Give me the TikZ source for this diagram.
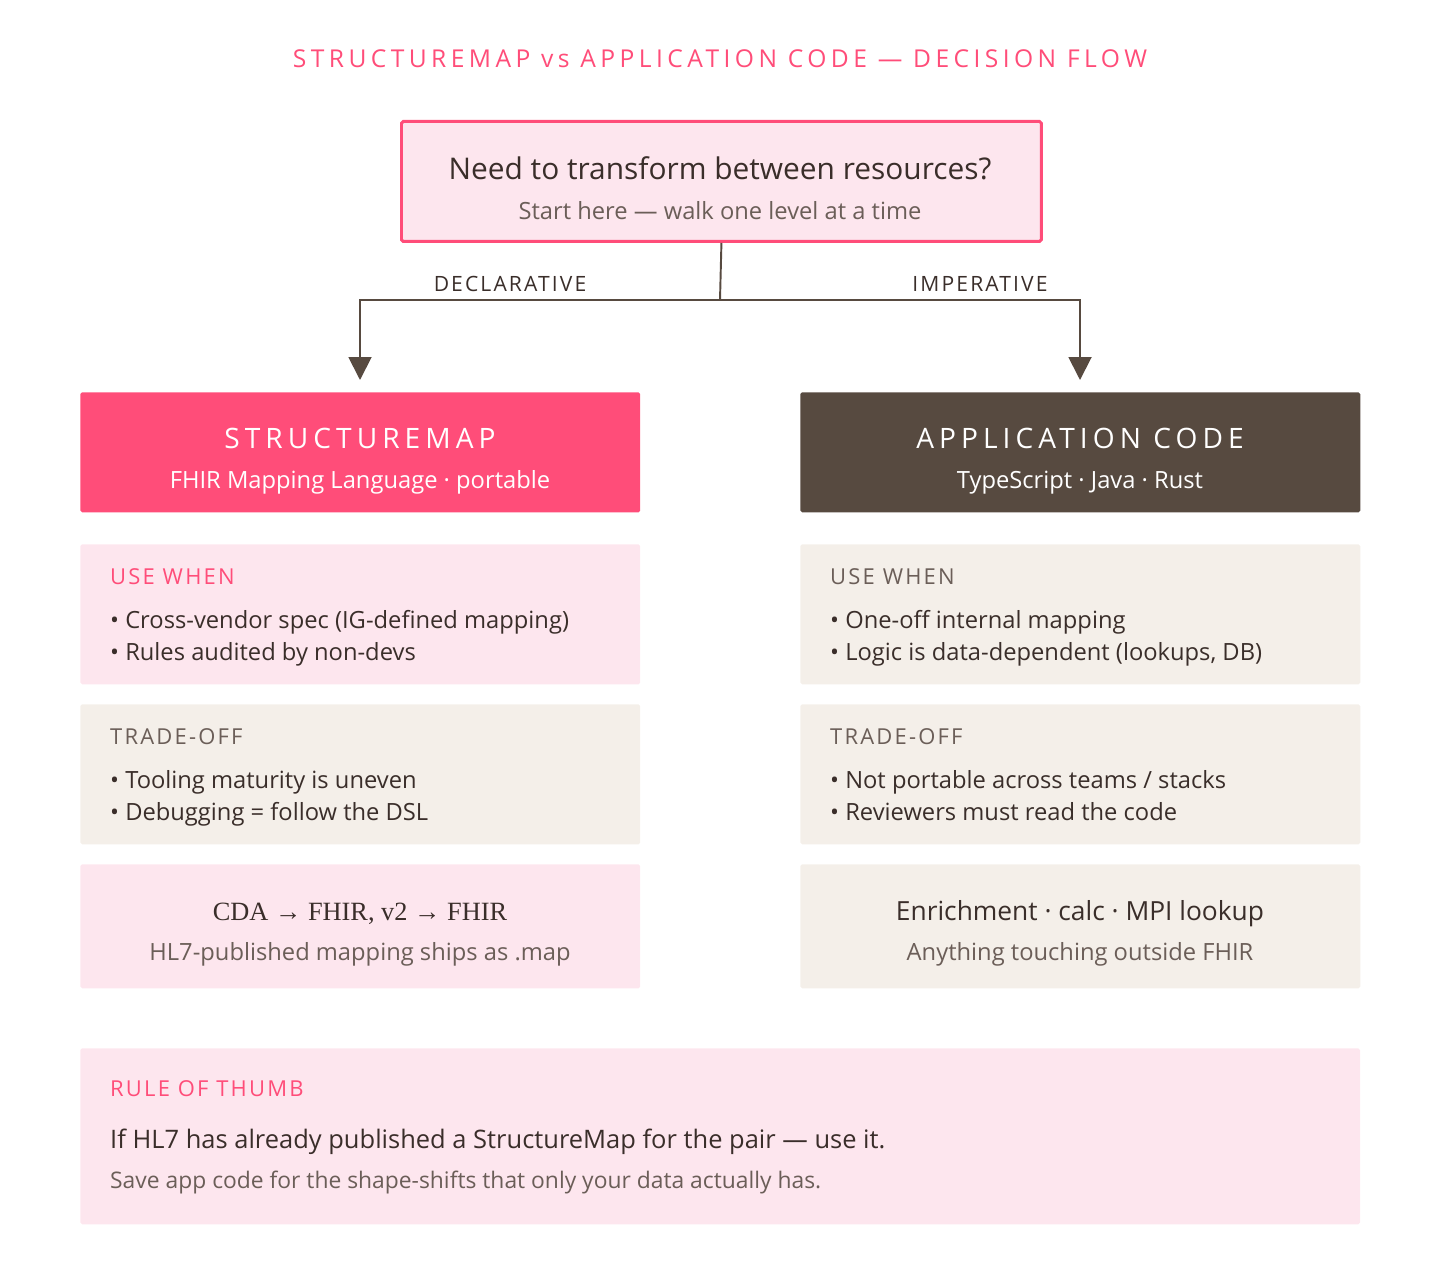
\documentclass[tikz,border=0pt]{standalone}
\usepackage{fontspec}
\setmainfont{Open Sans}
\newfontfamily\spaced{Open Sans}[LetterSpace=18]
\newfontfamily\spacedsm{Open Sans}[LetterSpace=10]
\newfontfamily\serifcda{Liberation Serif}
\usetikzlibrary{arrows.meta,positioning}

\definecolor{hot}{HTML}{FF4D79}
\definecolor{bark}{HTML}{574A40}
\definecolor{blush}{HTML}{FDE6EE}
\definecolor{sand}{HTML}{F4EFE9}
\definecolor{ink}{HTML}{3A2E2A}
\definecolor{mute}{HTML}{6B5E58}

\tikzset{
  card/.style={anchor=north west, inner sep=0pt, minimum width=11.2cm, rounded corners=1pt},
  head/.style={anchor=base, font=\spaced\fontsize{16}{18}\selectfont, text=white},
  tag/.style={anchor=base west, font=\spacedsm\fontsize{12.5}{14}\selectfont},
  item/.style={anchor=base west, font=\fontsize{13.5}{16}\selectfont, text=ink},
  flow/.style={draw=bark, line width=1.1pt}
}

\begin{document}
\begin{tikzpicture}[x=0.02cm,y=-0.02cm]
  \useasboundingbox (0,0) rectangle (1440,1280);

  \node[anchor=base, text=hot, font=\spaced\fontsize{14}{16}\selectfont] (title) at (720,68)
        {STRUCTUREMAP vs APPLICATION CODE — DECISION FLOW};

  % question
  \node[card, minimum width=12.8cm, minimum height=2.4cm, fill=blush, draw=hot, line width=1.7pt] (ask) at (400,120) {};
  \node[anchor=base, text=ink, font=\fontsize{17}{20}\selectfont] (askq) at (720,180) {Need to transform between resources?};
  \node[anchor=base, text=mute, font=\fontsize{13.5}{16}\selectfont] (asks) at (720,220) {Start here — walk one level at a time};

  % branches
  \coordinate (fork) at (720,300);
  \coordinate (lturn) at (360,300);
  \coordinate (rturn) at (1080,300);
  \coordinate (lend) at (360,380);
  \coordinate (rend) at (1080,380);
  \draw[flow] (ask.south) -- (fork);
  \draw[flow, -{Triangle[length=0.46cm,width=0.46cm]}] (fork) -- (lturn) -- (lend);
  \draw[flow, -{Triangle[length=0.46cm,width=0.46cm]}] (fork) -- (rturn) -- (rend);
  \node[anchor=base, text=ink, font=\spacedsm\fontsize{12}{14}\selectfont] (decl) at (510,292) {DECLARATIVE};
  \node[anchor=base, text=ink, font=\spacedsm\fontsize{12}{14}\selectfont] (imp) at (980,292) {IMPERATIVE};

  % left column
  \node[card, minimum height=2.4cm, fill=hot] (sm) at (80,392) {};
  \node[head] (smt) at (360,448) {STRUCTUREMAP};
  \node[anchor=base, text=white, font=\fontsize{13.5}{16}\selectfont] (sms) at (360,488) {FHIR Mapping Language · portable};

  \node[card, minimum height=2.8cm, fill=blush] (smuse) at (80,544) {};
  \node[tag, text=hot] (smuset) at (104,584) {USE WHEN};
  \node[item] (smu1) at (104,628) {• Cross-vendor spec (IG-defined mapping)};
  \node[item] (smu2) at (104,660) {• Rules audited by non-devs};

  \node[card, minimum height=2.8cm, fill=sand] (smtrade) at (80,704) {};
  \node[tag, text=mute] (smtradet) at (104,744) {TRADE-OFF};
  \node[item] (smt1) at (104,788) {• Tooling maturity is uneven};
  \node[item] (smt2) at (104,820) {• Debugging = follow the DSL};

  \node[card, minimum height=2.48cm, fill=blush] (smex) at (80,864) {};
  \node[anchor=base, text=ink, font=\serifcda\fontsize{15}{18}\selectfont] (smex1) at (360,920) {CDA → FHIR, v2 → FHIR};
  \node[anchor=base, text=mute, font=\fontsize{13.5}{16}\selectfont] (smex2) at (360,960) {HL7-published mapping ships as .map};

  % right column
  \node[card, minimum height=2.4cm, fill=bark] (ac) at (800,392) {};
  \node[head] (act) at (1080,448) {APPLICATION CODE};
  \node[anchor=base, text=white, font=\fontsize{13.5}{16}\selectfont] (acs) at (1080,488) {TypeScript · Java · Rust};

  \node[card, minimum height=2.8cm, fill=sand] (acuse) at (800,544) {};
  \node[tag, text=mute] (acuset) at (824,584) {USE WHEN};
  \node[item] (acu1) at (824,628) {• One-off internal mapping};
  \node[item] (acu2) at (824,660) {• Logic is data-dependent (lookups, DB)};

  \node[card, minimum height=2.8cm, fill=sand] (actrade) at (800,704) {};
  \node[tag, text=mute] (actradet) at (824,744) {TRADE-OFF};
  \node[item] (act1) at (824,788) {• Not portable across teams / stacks};
  \node[item] (act2) at (824,820) {• Reviewers must read the code};

  \node[card, minimum height=2.48cm, fill=sand] (acex) at (800,864) {};
  \node[anchor=base, text=ink, font=\fontsize{15}{18}\selectfont] (acex1) at (1080,920) {Enrichment · calc · MPI lookup};
  \node[anchor=base, text=mute, font=\fontsize{13.5}{16}\selectfont] (acex2) at (1080,960) {Anything touching outside FHIR};

  % rule of thumb
  \node[card, minimum width=25.6cm, minimum height=3.52cm, fill=blush] (rule) at (80,1048) {};
  \node[tag, text=hot] (rulet) at (104,1096) {RULE OF THUMB};
  \node[anchor=base west, text=ink, font=\fontsize{14.5}{17}\selectfont] (rule1) at (104,1148)
        {If HL7 has already published a StructureMap for the pair — use it.};
  \node[anchor=base west, text=mute, font=\fontsize{13}{16}\selectfont] (rule2) at (104,1188)
        {Save app code for the shape-shifts that only your data actually has.};
\end{tikzpicture}
\end{document}
